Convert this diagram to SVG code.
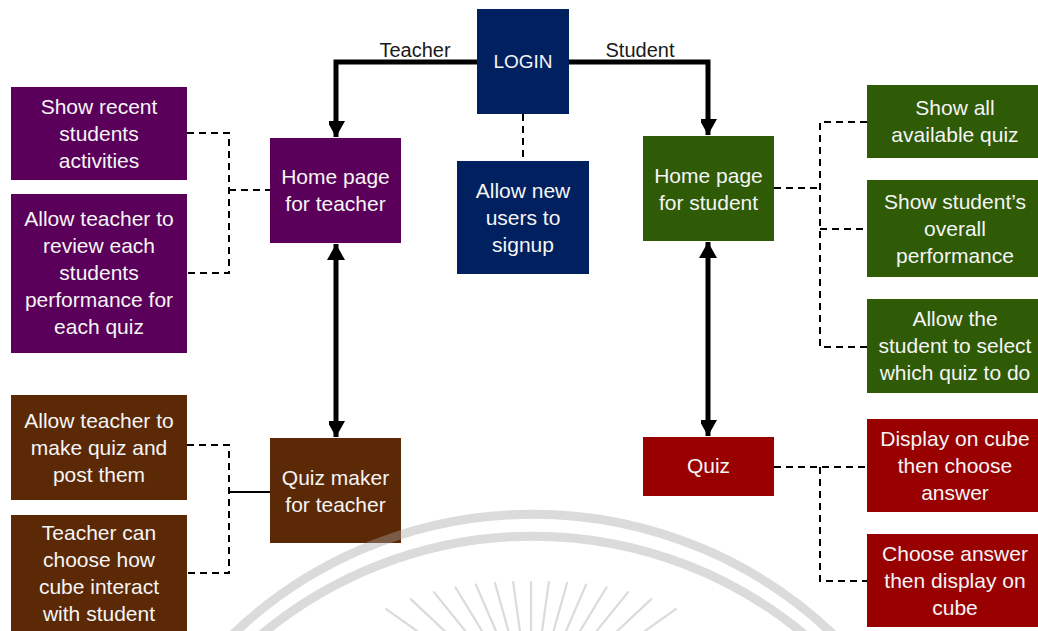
<svg xmlns="http://www.w3.org/2000/svg" width="1038" height="631" viewBox="0 0 1038 631">
  <style>
    .lbl { font-family: "Liberation Sans", Arial, sans-serif; font-size: 21px; fill: #f5f5f5; text-anchor: middle; }
    .edge-lbl { font-family: "Liberation Sans", Arial, sans-serif; font-size: 20px; fill: #1a1a1a; text-anchor: middle; }
    .navy { fill: #002060; }
    .purple { fill: #5a005a; }
    .green { fill: #2f5a06; }
    .brown { fill: #5c2906; }
    .red { fill: #990000; }
    .thick { fill: none; stroke: #000; stroke-width: 5; }
    .dash { fill: none; stroke: #000; stroke-width: 2; stroke-dasharray: 7 5; }
    .solid { fill: none; stroke: #000; stroke-width: 2; }
    .arc { fill: none; stroke: #a6a6a6; stroke-width: 9; }
    .ray { stroke: #a6a6a6; stroke-width: 2.2; stroke-linecap: round; }
  </style>
  <defs>
    <marker id="arrowEnd" markerUnits="userSpaceOnUse" markerWidth="20" markerHeight="16" refX="16" refY="9" orient="auto">
      <path d="M0,0 L16,9 L0,18 Z" fill="#000"/>
    </marker>
    <marker id="arrowStart" markerUnits="userSpaceOnUse" markerWidth="20" markerHeight="18" refX="0" refY="9" orient="auto">
      <path d="M16,0 L0,9 L16,18 Z" fill="#000"/>
    </marker>
  </defs>

  <rect width="1038" height="631" fill="#fff"/>

  <!-- connectors -->
  <g id="connectors">
    <path class="thick" d="M477,62 H336 V137" marker-end="url(#arrowEnd)"/>
    <path class="thick" d="M569,62 H708 V135" marker-end="url(#arrowEnd)"/>
    <path class="thick" d="M336,244 V437" marker-start="url(#arrowStart)" marker-end="url(#arrowEnd)"/>
    <path class="thick" d="M708,242 V436" marker-start="url(#arrowStart)" marker-end="url(#arrowEnd)"/>
    <path class="dash" d="M523,114 V161"/>
    <path class="dash" d="M187,133 H229 V273 H187"/>
    <path class="dash" d="M229,190 H270"/>
    <path class="dash" d="M187,445 H229 V573 H187"/>
    <path class="solid" d="M229,492 H270"/>
    <path class="dash" d="M774,188 H820"/>
    <path class="dash" d="M867,122 H820 V347 H867"/>
    <path class="dash" d="M820,229 H867"/>
    <path class="dash" d="M774,467 H867"/>
    <path class="dash" d="M820,467 V581 H867"/>
    <text class="edge-lbl" x="415" y="57">Teacher</text>
    <text class="edge-lbl" x="640" y="57">Student</text>
  </g>

  <!-- login -->
  <g id="login">
    <rect class="navy" x="477" y="9" width="92" height="105"/>
    <text class="lbl" x="523" y="68" style="font-size:19px">LOGIN</text>
  </g>
  <g id="signup">
    <rect class="navy" x="457" y="161" width="132" height="113"/>
    <text class="lbl" x="523" y="198">Allow new</text>
    <text class="lbl" x="523" y="225">users to</text>
    <text class="lbl" x="523" y="252">signup</text>
  </g>

  <!-- teacher side -->
  <g id="teacher-home">
    <rect class="purple" x="270" y="138" width="131" height="105"/>
    <text class="lbl" x="335.5" y="184">Home page</text>
    <text class="lbl" x="335.5" y="211">for teacher</text>
  </g>
  <g id="recent-activities">
    <rect class="purple" x="11" y="87" width="176" height="93"/>
    <text class="lbl" x="99" y="114">Show recent</text>
    <text class="lbl" x="99" y="141">students</text>
    <text class="lbl" x="99" y="168">activities</text>
  </g>
  <g id="review-performance">
    <rect class="purple" x="11" y="194" width="176" height="159"/>
    <text class="lbl" x="99" y="226">Allow teacher to</text>
    <text class="lbl" x="99" y="253">review each</text>
    <text class="lbl" x="99" y="280">students</text>
    <text class="lbl" x="99" y="307">performance for</text>
    <text class="lbl" x="99" y="334">each quiz</text>
  </g>
  <g id="quiz-maker">
    <rect class="brown" x="270" y="438" width="131" height="105"/>
    <text class="lbl" x="335.5" y="485">Quiz maker</text>
    <text class="lbl" x="335.5" y="512">for teacher</text>
  </g>
  <g id="make-quiz">
    <rect class="brown" x="11" y="395" width="176" height="105"/>
    <text class="lbl" x="99" y="428">Allow teacher to</text>
    <text class="lbl" x="99" y="455">make quiz and</text>
    <text class="lbl" x="99" y="482">post them</text>
  </g>
  <g id="cube-interaction">
    <rect class="brown" x="11" y="515" width="176" height="117"/>
    <text class="lbl" x="99" y="540">Teacher can</text>
    <text class="lbl" x="99" y="567">choose how</text>
    <text class="lbl" x="99" y="594">cube interact</text>
    <text class="lbl" x="99" y="621">with student</text>
  </g>

  <!-- student side -->
  <g id="student-home">
    <rect class="green" x="643" y="136" width="131" height="105"/>
    <text class="lbl" x="708.5" y="183">Home page</text>
    <text class="lbl" x="708.5" y="210">for student</text>
  </g>
  <g id="all-quiz">
    <rect class="green" x="867" y="85" width="176" height="73"/>
    <text class="lbl" x="955" y="115">Show all</text>
    <text class="lbl" x="955" y="142">available quiz</text>
  </g>
  <g id="overall-performance">
    <rect class="green" x="867" y="180" width="176" height="97"/>
    <text class="lbl" x="955" y="209">Show student’s</text>
    <text class="lbl" x="955" y="236">overall</text>
    <text class="lbl" x="955" y="263">performance</text>
  </g>
  <g id="select-quiz">
    <rect class="green" x="867" y="299" width="176" height="94"/>
    <text class="lbl" x="955" y="326">Allow the</text>
    <text class="lbl" x="955" y="353">student to select</text>
    <text class="lbl" x="955" y="380">which quiz to do</text>
  </g>
  <g id="quiz">
    <rect class="red" x="643" y="437" width="131" height="59"/>
    <text class="lbl" x="708.5" y="473">Quiz</text>
  </g>
  <g id="display-first">
    <rect class="red" x="867" y="419" width="176" height="93"/>
    <text class="lbl" x="955" y="446">Display on cube</text>
    <text class="lbl" x="955" y="473">then choose</text>
    <text class="lbl" x="955" y="500">answer</text>
  </g>
  <g id="answer-first">
    <rect class="red" x="867" y="534" width="176" height="93"/>
    <text class="lbl" x="955" y="561">Choose answer</text>
    <text class="lbl" x="955" y="588">then display on</text>
    <text class="lbl" x="955" y="615">cube</text>
  </g>

  <!-- faint emblem along the bottom edge -->
  <g id="watermark" opacity="0.4">
    <path class="arc" d="M227,640 A435,435 0 0 1 839,640"/>
    <path class="arc" d="M255,640 A424,424 0 0 1 811,640"/>
    <line class="ray" x1="531" y1="582" x2="531" y2="682"/>
    <line class="ray" x1="548.8" y1="582.2" x2="535.2" y2="681.3"/>
    <line class="ray" x1="567" y1="583" x2="540.1" y2="679.3"/>
    <line class="ray" x1="586.1" y1="584.6" x2="546.4" y2="676.4"/>
    <line class="ray" x1="606.4" y1="587.5" x2="554.6" y2="673"/>
    <line class="ray" x1="628.1" y1="592.1" x2="565.2" y2="669.8"/>
    <line class="ray" x1="651.3" y1="599.1" x2="578.4" y2="667.5"/>
    <line class="ray" x1="675.8" y1="609.1" x2="594.3" y2="667"/>
    <line class="ray" x1="513.2" y1="582.2" x2="526.8" y2="681.3"/>
    <line class="ray" x1="495" y1="583" x2="521.9" y2="679.3"/>
    <line class="ray" x1="475.9" y1="584.6" x2="515.6" y2="676.4"/>
    <line class="ray" x1="455.6" y1="587.5" x2="507.4" y2="673"/>
    <line class="ray" x1="433.9" y1="592.1" x2="496.8" y2="669.8"/>
    <line class="ray" x1="410.7" y1="599.1" x2="483.6" y2="667.5"/>
    <line class="ray" x1="386.2" y1="609.1" x2="467.7" y2="667"/>
  </g>
</svg>
